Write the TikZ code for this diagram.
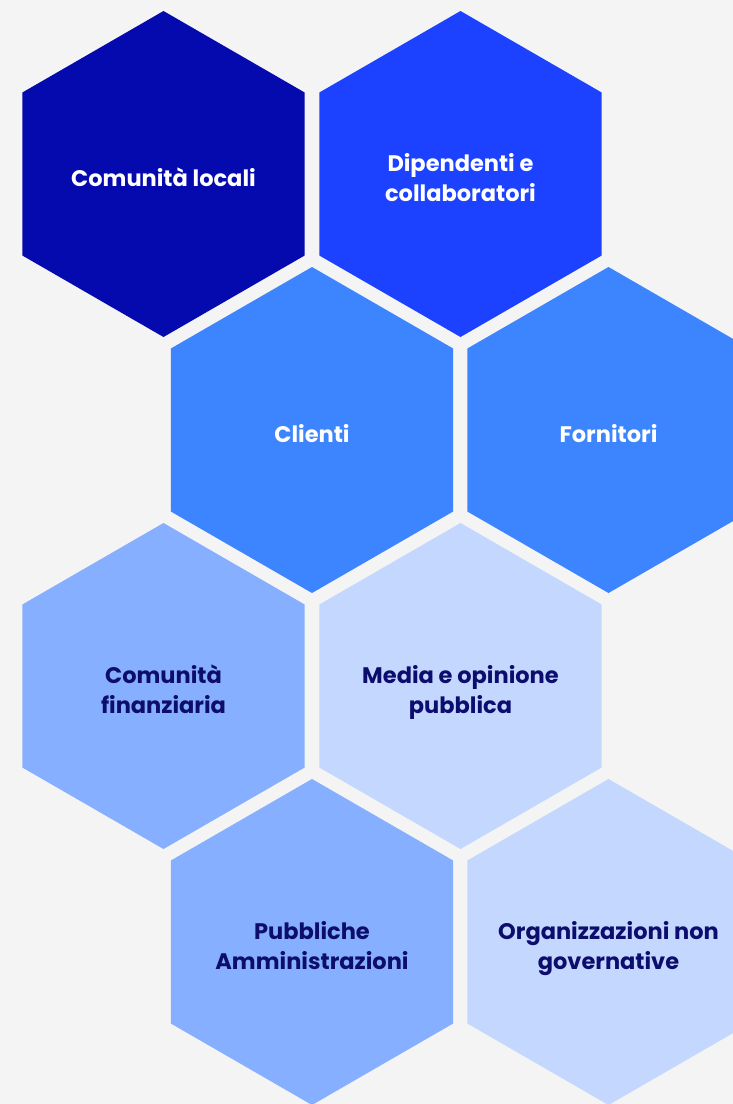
\documentclass[tikz,border=0pt]{standalone}
\usepackage{fontspec}
\setmainfont{Poppins}
\usetikzlibrary{shapes.geometric}

\definecolor{pagegray}{HTML}{F4F4F4}
\definecolor{navy}{HTML}{050AAF}
\definecolor{royal}{HTML}{1C42FF}
\definecolor{azure}{HTML}{3D84FF}
\definecolor{sky}{HTML}{86AFFF}
\definecolor{pale}{HTML}{C3D7FF}
\definecolor{inkblue}{HTML}{0D0D6E}

\tikzset{
  cell/.style={regular polygon, regular polygon sides=6, shape border rotate=30,
    minimum size=326pt, inner sep=0pt},
  caption/.style={align=center, text depth=0pt, yshift=-3pt,
    font=\fontsize{22.5}{30}\selectfont\bfseries},
  light/.style={caption, text=white},
  dark/.style={caption, text=inkblue}
}

\begin{document}
\begin{tikzpicture}[x=1pt,y=-1pt]
    \path[use as bounding box, fill=pagegray] (0,0) rectangle (733,1104);
    % hexagons, row by row
    \node[cell, fill=navy]  (locali)     at (163.5,174) {};
    \node[cell, fill=royal] (dipendenti) at (460.5,174) {};
    \node[cell, fill=azure] (clienti)    at (312.0,430) {};
    \node[cell, fill=azure] (fornitori)  at (608.5,430) {};
    \node[cell, fill=sky]   (finanza)    at (163.5,686) {};
    \node[cell, fill=pale]  (media)      at (460.5,686) {};
    \node[cell, fill=sky]   (pa)         at (312.0,942) {};
    \node[cell, fill=pale]  (ong)        at (608.5,942) {};
    % captions
    \node[light] (localitext)     at (locali)     {Comunità locali};
    \node[light] (dipendentitext) at (dipendenti) {Dipendenti e\\collaboratori};
    \node[light] (clientitext)    at (clienti)    {Clienti};
    \node[light] (fornitoritext)  at (fornitori)  {Fornitori};
    \node[dark]  (finanzatext)    at (finanza)    {Comunità\\finanziaria};
    \node[dark]  (mediatext)      at (media)      {Media e opinione\\pubblica};
    \node[dark]  (patext)         at (pa)         {Pubbliche\\Amministrazioni};
    \node[dark]  (ongtext)        at (ong)        {Organizzazioni non\\governative};
\end{tikzpicture}
\end{document}
